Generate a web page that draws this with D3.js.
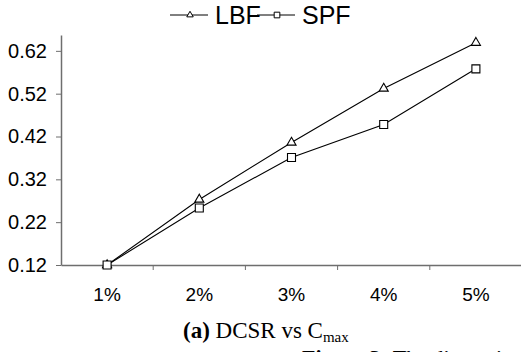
<!DOCTYPE html>
<html>
<head>
<meta charset="utf-8">
<script src="https://cdn.jsdelivr.net/npm/d3@7"></script>
<style>
  body { margin: 0; background: #fff; }
  svg { display: block; }
</style>
</head>
<body>
<div id="chart"></div>
<script>
// data
var categories = ["1%", "2%", "3%", "4%", "5%"];
var lbf = [0.12, 0.273, 0.406, 0.532, 0.639];
var spf = [0.12, 0.253, 0.371, 0.448, 0.578];
var yTicks = [0.12, 0.22, 0.32, 0.42, 0.52, 0.62];

function line_chart(){
	var W = 521, H = 352;
	var left = 61, right = 522, top = 35, bottom = 265;
	var svg = d3.select("#chart")
		.append("svg")
		.attr("width", W)
		.attr("height", H);

	var x = d3.scaleBand()
		.domain(categories)
		.range([left, right])
		.padding(0);
	var y = d3.scaleLinear()
		.domain([0.12, 0.657])
		.range([bottom, top]);

	// y axis
	var yAxis = svg.append("g")
		.attr("transform", "translate(" + left + ",0)")
		.call(d3.axisLeft(y).tickValues(yTicks).tickFormat(d3.format(".2f")).tickSize(5).tickSizeOuter(0).tickPadding(9));
	yAxis.select(".domain").attr("stroke", "#6e6e6e").attr("stroke-width", 1.5);
	yAxis.selectAll(".tick line").attr("stroke", "#6e6e6e");
	yAxis.selectAll("text")
		.attr("font-family", "Liberation Sans, Arial, sans-serif")
		.attr("font-size", 20)
		.attr("fill", "#000");

	// x axis (labels centred, ticks on band edges)
	var xAxis = svg.append("g")
		.attr("transform", "translate(0," + bottom + ")")
		.call(d3.axisBottom(x).tickSize(0).tickSizeOuter(0).tickPadding(23));
	xAxis.select(".domain").attr("stroke", "#6e6e6e").attr("stroke-width", 1.5);
	xAxis.selectAll("text")
		.attr("font-family", "Liberation Sans, Arial, sans-serif")
		.attr("font-size", 19)
		.attr("fill", "#000");
	svg.append("g")
		.selectAll("line")
		.data(categories.slice(1))
		.enter()
		.append("line")
		.attr("x1", d => x(d))
		.attr("x2", d => x(d))
		.attr("y1", bottom)
		.attr("y2", bottom + 5)
		.attr("stroke", "#6e6e6e");

	var series = [
		{name: "LBF", values: lbf, symbol: d3.symbolTriangle, size: 36},
		{name: "SPF", values: spf, symbol: d3.symbolSquare, size: 64}
	];

	var line = d3.line()
		.x((d, i) => x(categories[i]) + x.bandwidth() / 2)
		.y(d => y(d));

	series.forEach(function(s){
		svg.append("path")
			.datum(s.values)
			.attr("d", line)
			.attr("fill", "none")
			.attr("stroke", "#000")
			.attr("stroke-width", 1.1);
		svg.append("g")
			.selectAll("path")
			.data(s.values)
			.enter()
			.append("path")
			.attr("transform", (d, i) => "translate(" + (x(categories[i]) + x.bandwidth() / 2) + "," + y(d) + ")")
			.attr("d", d3.symbol().type(s.symbol).size(s.size))
			.attr("fill", "#fff")
			.attr("stroke", "#000")
			.attr("stroke-width", 1.1);
	});

	// legend
	var legendX = [170, 257];
	var legend = svg.append("g");
	series.forEach(function(s, i){
		var g = legend.append("g").attr("transform", "translate(" + legendX[i] + ",15)");
		g.append("line")
			.attr("x1", 0).attr("x2", 38)
			.attr("y1", 0).attr("y2", 0)
			.attr("stroke", "#000");
		g.append("path")
			.attr("transform", "translate(20,0)")
			.attr("d", d3.symbol().type(s.symbol).size(s.size * 0.5))
			.attr("fill", "#fff")
			.attr("stroke", "#000");
		g.append("text")
			.attr("x", 45)
			.attr("y", 9)
			.attr("font-family", "Liberation Sans, Arial, sans-serif")
			.attr("font-size", 25)
			.text(s.name);
	});

	// caption
	var cap = svg.append("text")
		.attr("x", 183)
		.attr("y", 338)
		.attr("font-family", "Liberation Serif, Times New Roman, serif")
		.attr("font-size", 23);
	cap.append("tspan").attr("font-weight", "bold").text("(a)");
	cap.append("tspan").text(" DCSR vs C");
	cap.append("tspan").attr("font-size", 15).attr("dy", 4).text("max");

	var fig = svg.append("text")
		.attr("x", 302)
		.attr("y", 365)
		.attr("font-family", "Liberation Serif, Times New Roman, serif")
		.attr("font-size", 22);
	fig.append("tspan").attr("font-weight", "bold").text("Figure 3:");
	fig.append("tspan").text(" The dimensionality");
}

line_chart();
</script>
</body>
</html>
